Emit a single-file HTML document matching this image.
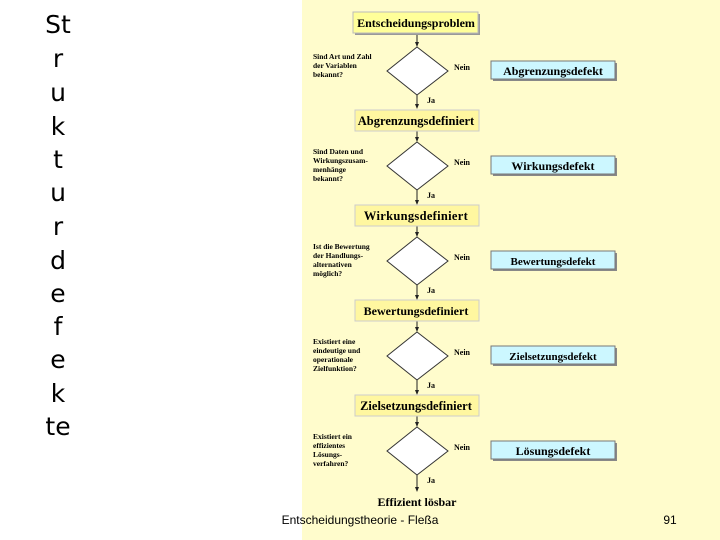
<!DOCTYPE html>
<html><head><meta charset="utf-8"><style>
html,body{margin:0;padding:0;background:#fff}
body{width:720px;height:540px;position:relative;overflow:hidden}
.l{position:absolute;left:0;width:116px;text-align:center;font-family:"DejaVu Sans",sans-serif;font-size:25px;color:#000;line-height:30px}
</style></head><body>
<div style="position:absolute;left:302px;top:0;width:418px;height:540px;background:#fffccc"></div>
<div class="l" style="top:10px">St</div>
<div class="l" style="top:44px">r</div>
<div class="l" style="top:78px">u</div>
<div class="l" style="top:112px">k</div>
<div class="l" style="top:145px">t</div>
<div class="l" style="top:178px">u</div>
<div class="l" style="top:212px">r</div>
<div class="l" style="top:246px">d</div>
<div class="l" style="top:279px">e</div>
<div class="l" style="top:312px">f</div>
<div class="l" style="top:345px">e</div>
<div class="l" style="top:379px">k</div>
<div class="l" style="top:412px">te</div>
<svg width="720" height="540" style="position:absolute;left:0;top:0" font-family="Liberation Serif,serif" font-weight="bold">
<rect x="355" y="14" width="125" height="21" fill="#999"/>
<rect x="353" y="12" width="125" height="21" fill="#ffff99" stroke="#bbb"/>
<text x="416" y="27" font-size="12" text-anchor="middle">Entscheidungsproblem</text>
<g stroke="#333" stroke-width="1" fill="#fff">
<polygon points="417,47 448,71 417,95 387,71"/>
<polygon points="417,142 448,166 417,190 387,166"/>
<polygon points="417,237 448,261 417,285 387,261"/>
<polygon points="417,332 448,356 417,380 387,356"/>
<polygon points="417,427 448,451 417,475 387,451"/>
</g>
<g stroke="#222" stroke-width="1">
<line x1="417" y1="35" x2="417" y2="46"/>
<line x1="417" y1="95" x2="417" y2="107"/>
<line x1="417" y1="131" x2="417" y2="141"/>
<line x1="417" y1="190" x2="417" y2="203"/>
<line x1="417" y1="226" x2="417" y2="236"/>
<line x1="417" y1="285" x2="417" y2="298"/>
<line x1="417" y1="321" x2="417" y2="331"/>
<line x1="417" y1="380" x2="417" y2="393"/>
<line x1="417" y1="416" x2="417" y2="426"/>
<line x1="417" y1="475" x2="417" y2="490"/>
</g>
<g fill="#222">
<polygon points="415,42 419,42 417,47"/>
<polygon points="415,104 419,104 417,109"/>
<polygon points="415,137 419,137 417,142"/>
<polygon points="415,200 419,200 417,205"/>
<polygon points="415,232 419,232 417,237"/>
<polygon points="415,295 419,295 417,300"/>
<polygon points="415,327 419,327 417,332"/>
<polygon points="415,390 419,390 417,395"/>
<polygon points="415,422 419,422 417,427"/>
<polygon points="415,487 419,487 417,492"/>
</g>
<g>
<rect x="355" y="110" width="124" height="21" fill="#fff7a0" stroke="#ccc"/>
<text x="416" y="125" font-size="12.5" text-anchor="middle">Abgrenzungsdefiniert</text>
<rect x="355" y="205" width="124" height="21" fill="#fff7a0" stroke="#ccc"/>
<text x="416" y="220" font-size="12.5" text-anchor="middle" letter-spacing="0.3">Wirkungsdefiniert</text>
<rect x="355" y="300" width="124" height="21" fill="#fff7a0" stroke="#ccc"/>
<text x="416" y="315" font-size="12" text-anchor="middle">Bewertungsdefiniert</text>
<rect x="355" y="395" width="124" height="21" fill="#fff7a0" stroke="#ccc"/>
<text x="416" y="410" font-size="12.5" text-anchor="middle">Zielsetzungsdefiniert</text>
</g>
<g font-size="12">
<rect x="493" y="63" width="124" height="18" fill="#888"/><rect x="491" y="61" width="124" height="18" fill="#ccf7ff" stroke="#777"/>
<text x="553" y="75" text-anchor="middle">Abgrenzungsdefekt</text>
<rect x="493" y="158" width="124" height="18" fill="#888"/><rect x="491" y="156" width="124" height="18" fill="#ccf7ff" stroke="#777"/>
<text x="553" y="170" text-anchor="middle">Wirkungsdefekt</text>
<rect x="493" y="253" width="124" height="18" fill="#888"/><rect x="491" y="251" width="124" height="18" fill="#ccf7ff" stroke="#777"/>
<text x="553" y="265" text-anchor="middle" font-size="11">Bewertungsdefekt</text>
<rect x="493" y="348" width="124" height="18" fill="#888"/><rect x="491" y="346" width="124" height="18" fill="#ccf7ff" stroke="#777"/>
<text x="553" y="360" text-anchor="middle" font-size="11">Zielsetzungsdefekt</text>
<rect x="493" y="443" width="124" height="18" fill="#888"/><rect x="491" y="441" width="124" height="18" fill="#ccf7ff" stroke="#777"/>
<text x="553" y="455" text-anchor="middle">Lösungsdefekt</text>
</g>
<g font-size="8">
<text x="454" y="70">Nein</text><text x="427" y="103">Ja</text>
<text x="454" y="165">Nein</text><text x="427" y="198">Ja</text>
<text x="454" y="260">Nein</text><text x="427" y="293">Ja</text>
<text x="454" y="355">Nein</text><text x="427" y="388">Ja</text>
<text x="454" y="450">Nein</text><text x="427" y="483">Ja</text>
</g>
<g font-size="7.5">
<text x="313" y="59">Sind Art und Zahl</text><text x="313" y="68">der Variablen</text><text x="313" y="77">bekannt?</text>
<text x="313" y="154">Sind Daten und</text><text x="313" y="163">Wirkungszusam-</text><text x="313" y="172">menhänge</text><text x="313" y="181">bekannt?</text>
<text x="313" y="249">Ist die Bewertung</text><text x="313" y="258">der Handlungs-</text><text x="313" y="267">alternativen</text><text x="313" y="276">möglich?</text>
<text x="313" y="344">Existiert eine</text><text x="313" y="353">eindeutige und</text><text x="313" y="362">operationale</text><text x="313" y="371">Zielfunktion?</text>
<text x="313" y="439">Existiert ein</text><text x="313" y="448">effizientes</text><text x="313" y="457">Lösungs-</text><text x="313" y="466">verfahren?</text>
</g>
<text x="417" y="506" font-size="12" text-anchor="middle">Effizient lösbar</text>
<text x="360" y="524" font-size="12" font-weight="normal" font-family="Liberation Sans,sans-serif" text-anchor="middle">Entscheidungstheorie - Fleßa</text>
<text x="670" y="524" font-size="12" font-weight="normal" font-family="Liberation Sans,sans-serif" text-anchor="middle">91</text>
</svg>
</body></html>
